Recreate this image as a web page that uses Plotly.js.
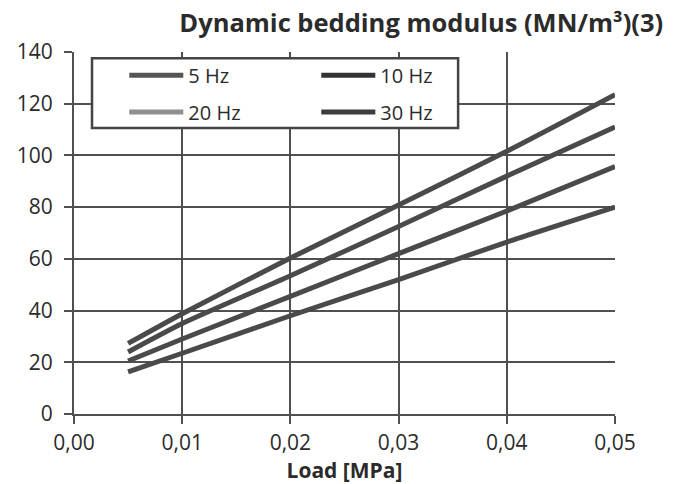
<!DOCTYPE html>
<html><head><meta charset="utf-8">
<script src="https://cdn.plot.ly/plotly-3.0.1.min.js"></script>
<style>body{margin:0;background:#fff}#c{width:676px;height:484px}</style>
</head><body><div id="c"></div>
<script>
const load = [0.005, 0.01, 0.02, 0.03, 0.04, 0.05];
const hz5  = [16.3, 23.5, 38, 52, 66.5, 80];
const hz10 = [20.5, 29, 45.5, 62, 78.5, 95.7];
const hz20 = [24, 35, 53.5, 72.5, 92, 111];
const hz30 = [27.3, 38.8, 60.3, 80.8, 101.6, 123.5];
const names = ['5 Hz', '10 Hz', '20 Hz', '30 Hz'];
const series = [hz5, hz10, hz20, hz30];
const swatchColors = ['#555555', '#333333', '#8f8f8f', '#3c3c3c'];
const legendIds = ['legend', 'legend', 'legend2', 'legend2'];
const xTicks = [0, 0.01, 0.02, 0.03, 0.04, 0.05];
const yTicks = [0, 20, 40, 60, 80, 100, 120, 140];

const font = 'Open Sans, Liberation Sans, sans-serif';
// plotted curves (all drawn in the same dark grey, as in the reference)
const traces = series.map((s, i) => ({
  x: load, y: s, name: names[i], type: 'scatter', mode: 'lines', showlegend: false,
  line: {color: '#4a4a4a', width: 5, shape: 'spline', smoothing: 0.6}
}));
// legend entries (swatch colours differ slightly in the reference legend)
names.forEach((n, i) => traces.push({
  x: [null], y: [null], name: n, type: 'scatter', mode: 'lines', legend: legendIds[i],
  line: {color: swatchColors[i], width: 5}
}));

const legendCommon = {orientation: 'h', xanchor: 'left', yanchor: 'middle', bgcolor: 'rgba(0,0,0,0)',
  borderwidth: 0, entrywidth: 123, itemwidth: 54, font: {size: 20, color: '#2b2b2b', family: font}, traceorder: 'normal'};
const layout = {
  width: 676, height: 484,
  margin: {l: 74, r: 61, t: 52, b: 70},
  paper_bgcolor: '#fff', plot_bgcolor: '#fff',
  separators: ',.',
  font: {family: font, color: '#2b2b2b', size: 21},
  title: {text: '<b>Dynamic bedding modulus (MN/m³)(3)</b>', xref: 'container', x: 0.981, xanchor: 'right',
          yref: 'container', y: 0.952, yanchor: 'middle', font: {size: 25.5, color: '#2b2b2b', family: font}},
  xaxis: {range: [0, 0.05], tickvals: xTicks, tickformat: '.2f', showgrid: true, gridcolor: '#505050', gridwidth: 2,
          showline: true, linecolor: '#505050', linewidth: 2, ticks: 'outside', ticklen: 8, tickwidth: 2, tickcolor: '#505050',
          zeroline: false, tickfont: {size: 21}, ticklabelstandoff: 1,
          title: {text: '<b>Load [MPa]</b>', font: {size: 21}, standoff: 7}},
  yaxis: {range: [0, 140], tickvals: yTicks, showgrid: true, gridcolor: '#505050', gridwidth: 2,
          showline: true, linecolor: '#505050', linewidth: 2, ticks: 'outside', ticklen: 8, tickwidth: 2, tickcolor: '#505050',
          zeroline: false, tickfont: {size: 21}, ticklabelstandoff: 7},
  shapes: [{type: 'rect', xref: 'paper', yref: 'paper', x0: 0.0333, x1: 0.71, y0: 0.79, y1: 0.983,
            line: {color: '#444', width: 2.5}, fillcolor: '#fff', layer: 'above'}],
  showlegend: true,
  legend: Object.assign({x: 0.093, y: 0.936}, legendCommon),
  legend2: Object.assign({x: 0.093, y: 0.834}, legendCommon)
};
Plotly.newPlot('c', traces, layout, {displayModeBar: false, staticPlot: true});
</script></body></html>
